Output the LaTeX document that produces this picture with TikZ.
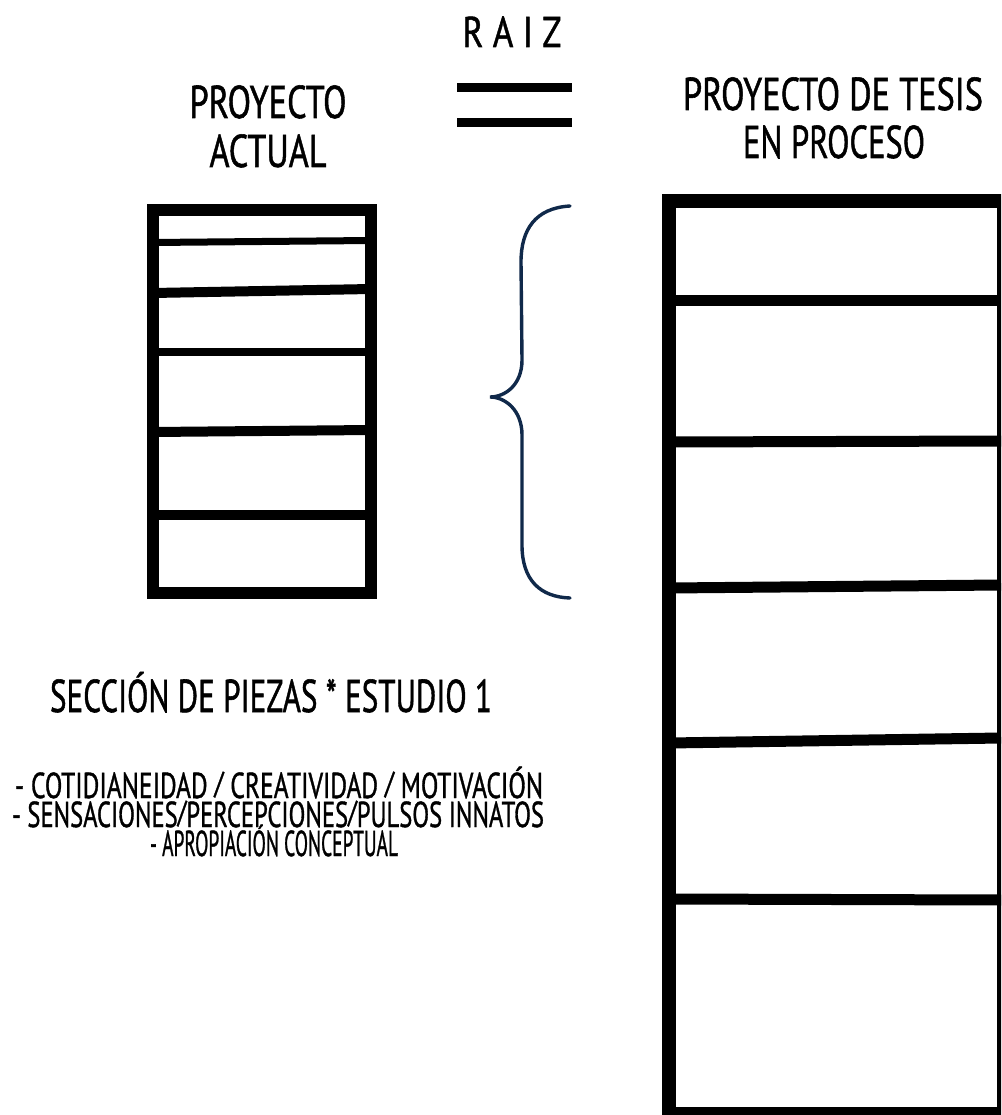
\documentclass[tikz,border=0pt]{standalone}
\usepackage{fontspec}
\usepackage{graphicx}
\setmainfont{PT Sans}
\newfontfamily\hand[FakeBold=1.2]{PT Sans}
\definecolor{bracenavy}{HTML}{10294A}
\newcommand{\fitw}[2]{\resizebox{#1}{\height}{#2}}
\newcommand{\sls}{\raisebox{0.13em}{\scalebox{1}[0.85]{/}}}
\begin{document}
\begin{tikzpicture}[x=1pt,y=-1pt,
  lbl/.style={inner sep=0pt, anchor=base},
  bigtxt/.style={font=\hand\fontsize{46}{50}\selectfont},
  smalltxt/.style={font=\hand\fontsize{36}{40}\selectfont},
  frameA/.style={line width=12pt, line join=miter},
  frameB/.style={line width=14pt, line join=miter},
  shelf/.style={line width=#1},
  brace/.style={draw=bracenavy, line width=3.4pt, line cap=round}]
\useasboundingbox (0,0) rectangle (1001,1115);
\clip (0,0) rectangle (1001,1115);
\fill[white] (0,0) rectangle (1001,1115);

% titles
\node[lbl, font=\hand\fontsize{43}{45}\selectfont] (raiz) at (512,47) {\fitw{99pt}{R A I Z}};
\node[lbl, bigtxt] (pa1) at (268,118) {\fitw{157pt}{PROYECTO}};
\node[lbl, bigtxt] (pa2) at (268,167) {\fitw{117pt}{ACTUAL}};
\node[lbl, bigtxt] (pt1) at (833,110) {\fitw{300pt}{PROYECTO DE TESIS}};
\node[lbl, bigtxt] (pt2) at (834,158) {\fitw{182pt}{EN PROCESO}};

% equals sign
\draw[line width=9pt] (457,87.5) -- (572,87.5);
\draw[line width=9pt] (457,122.5) -- (572,122.5);

% left box
\draw[frameA] (153,210) rectangle (371,593);
\draw[shelf=7pt] (153,242.5) -- (371,240.5);
\draw[shelf=10pt] (153,293) -- (371,289);
\draw[shelf=8pt] (153,352) -- (371,352);
\draw[shelf=10pt] (153,432) -- (371,430);
\draw[shelf=10pt] (153,515) -- (371,515);

% brace
\draw[brace] (570,206) .. controls (535,208) and (521,230) .. (521,262)
  -- (522,360) .. controls (522,385) and (505,397) .. (490,397)
  .. controls (505,397) and (522,410) .. (522,435)
  -- (522,545) .. controls (522,580) and (540,597) .. (570,598);

% right box
\draw[frameB] (669,201) rectangle (1004,1114);
\draw[shelf=11pt] (669,300) -- (1001,300);
\draw[shelf=11pt] (669,442) -- (1001,441);
\draw[shelf=11pt] (669,588) -- (1001,585);
\draw[shelf=11pt] (669,743) -- (1001,738);
\draw[shelf=11pt] (669,899) -- (1001,900);

% lower texts
\node[lbl, bigtxt] (sec) at (271,712) {\fitw{442pt}{SECCIÓN DE PIEZAS * ESTUDIO 1}};
\node[lbl, smalltxt] (l1) at (279,798) {\fitw{528pt}{- COTIDIANEIDAD \sls{} CREATIVIDAD \sls{} MOTIVACIÓN}};
\node[lbl, smalltxt] (l2) at (278,827) {\fitw{532pt}{- SENSACIONES\sls{}PERCEPCIONES\sls{}PULSOS INNATOS}};
\node[lbl, smalltxt] (l3) at (274,856) {\fitw{248pt}{- APROPIACIÓN CONCEPTUAL}};
\end{tikzpicture}
\end{document}
